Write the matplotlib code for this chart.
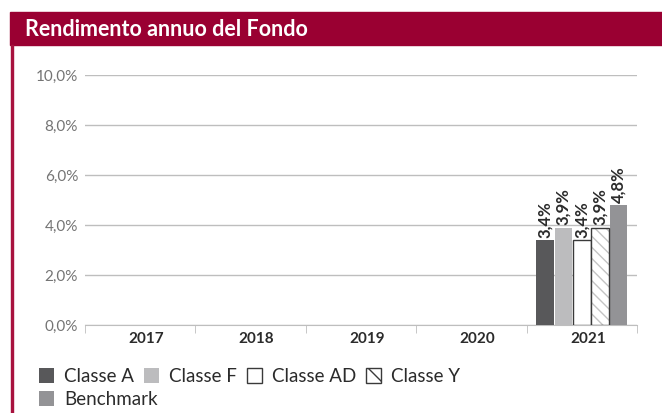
import matplotlib.pyplot as plt
import matplotlib.patches as mpatches
import matplotlib.transforms as mtransforms
import numpy as np

plt.rcParams['font.family'] = ['Lato', 'DejaVu Sans']

years = ['2017', '2018', '2019', '2020', '2021']
series = ['Classe A', 'Classe F', 'Classe AD', 'Classe Y', 'Benchmark']
# only 2021 has values
values = {
    'Classe A':  [np.nan, np.nan, np.nan, np.nan, 3.4],
    'Classe F':  [np.nan, np.nan, np.nan, np.nan, 3.9],
    'Classe AD': [np.nan, np.nan, np.nan, np.nan, 3.4],
    'Classe Y':  [np.nan, np.nan, np.nan, np.nan, 3.9],
    'Benchmark': [np.nan, np.nan, np.nan, np.nan, 4.8],
}
yticks = [0, 2, 4, 6, 8, 10]

crimson = '#9A0032'
W, H = 662, 413
fig = plt.figure(figsize=(W / 100, H / 100), dpi=100)

# title band + left rule
fig.patches.append(mpatches.Rectangle((10 / W, 1 - 45 / H), 1, 33 / H,
                                      transform=fig.transFigure, color=crimson, zorder=0))
fig.patches.append(mpatches.Rectangle((11 / W, 0), 2 / W, 1 - 45 / H,
                                      transform=fig.transFigure, color='#A8123E', zorder=0))
fig.text(25 / W, 1 - 30 / H, 'Rendimento annuo del Fondo', color='white',
         fontsize=15.5, fontweight='bold', va='center', ha='left')

ax = fig.add_axes([85 / W, 1 - 325 / H, 552 / W, 250 / H])
x = np.arange(len(years))
bw = 0.167
styles = {
    'Classe A':  dict(color='#58585A'),
    'Classe F':  dict(color='#BCBCBE'),
    'Classe AD': dict(facecolor='white', edgecolor='#3A3A3A', linewidth=1),
    'Classe Y':  dict(facecolor='white', edgecolor='#C4C4C4', linewidth=0, hatch='\\\\\\'),
    'Benchmark': dict(color='#939396'),
}
handles = {}
for i, s in enumerate(series):
    vals = np.array(values[s])
    pos = x + (i - 2) * bw
    bars = ax.bar(pos, vals, bw * 0.95, zorder=3, **styles[s])
    if s == 'Classe Y':
        ax.bar(pos, vals, bw * 0.95, fill=False, edgecolor='#3A3A3A', linewidth=1, zorder=4)
        handles[s] = mpatches.Patch(facecolor='white', edgecolor='#3A3A3A', hatch='\\\\', linewidth=1)
    else:
        handles[s] = bars
    for p, v in zip(pos, vals):
        if not np.isnan(v):
            ax.annotate(f'{v:.1f}%'.replace('.', ','), (p, v), xytext=(0, 1.5),
                        textcoords='offset points', rotation=90, ha='center', va='bottom',
                        fontsize=12, fontweight='bold', color='#2B2B2B')

ax.set_xlim(-0.5, len(years) - 0.5)
ax.set_ylim(0, 10)
ax.set_yticks(yticks)
ax.set_yticklabels([f'{t:.1f}%'.replace('.', ',') for t in yticks], color='#747474', fontsize=11)
ax.tick_params(axis='y', length=0, pad=5)
ax.grid(axis='y', color='#BEBEBE', linewidth=1, zorder=0)
ax.set_xticks(x)
ax.set_xticklabels(years, fontsize=11, fontweight='bold', color='#2B2B2B')
ax.set_xticks(np.arange(len(years) + 1) - 0.5, minor=True)
ax.tick_params(axis='x', which='major', length=0, pad=5)
ax.tick_params(axis='x', which='minor', length=6, direction='out', color='#BEBEBE')
offset = mtransforms.ScaledTranslation(6 / 100, 0, fig.dpi_scale_trans)
for lab in ax.get_xticklabels():
    lab.set_transform(lab.get_transform() + offset)
for sp in ['top', 'right', 'left']:
    ax.spines[sp].set_visible(False)
ax.spines['bottom'].set_color('#BEBEBE')

leg_kw = dict(frameon=False, fontsize=13.5, handlelength=0.8, handleheight=0.8,
              handletextpad=0.53, columnspacing=0.53, borderpad=0, borderaxespad=0,
              labelcolor='#2B2B2B')
leg1 = fig.legend([handles[s] for s in series[:4]], series[:4], ncol=4,
                  loc='upper left', bbox_to_anchor=(39 / W, 1 - 368 / H), **leg_kw)
leg2 = fig.legend([handles['Benchmark']], ['Benchmark'], loc='upper left',
                  bbox_to_anchor=(39 / W, 1 - 391 / H), **leg_kw)

plt.savefig('out.png', dpi=100)
